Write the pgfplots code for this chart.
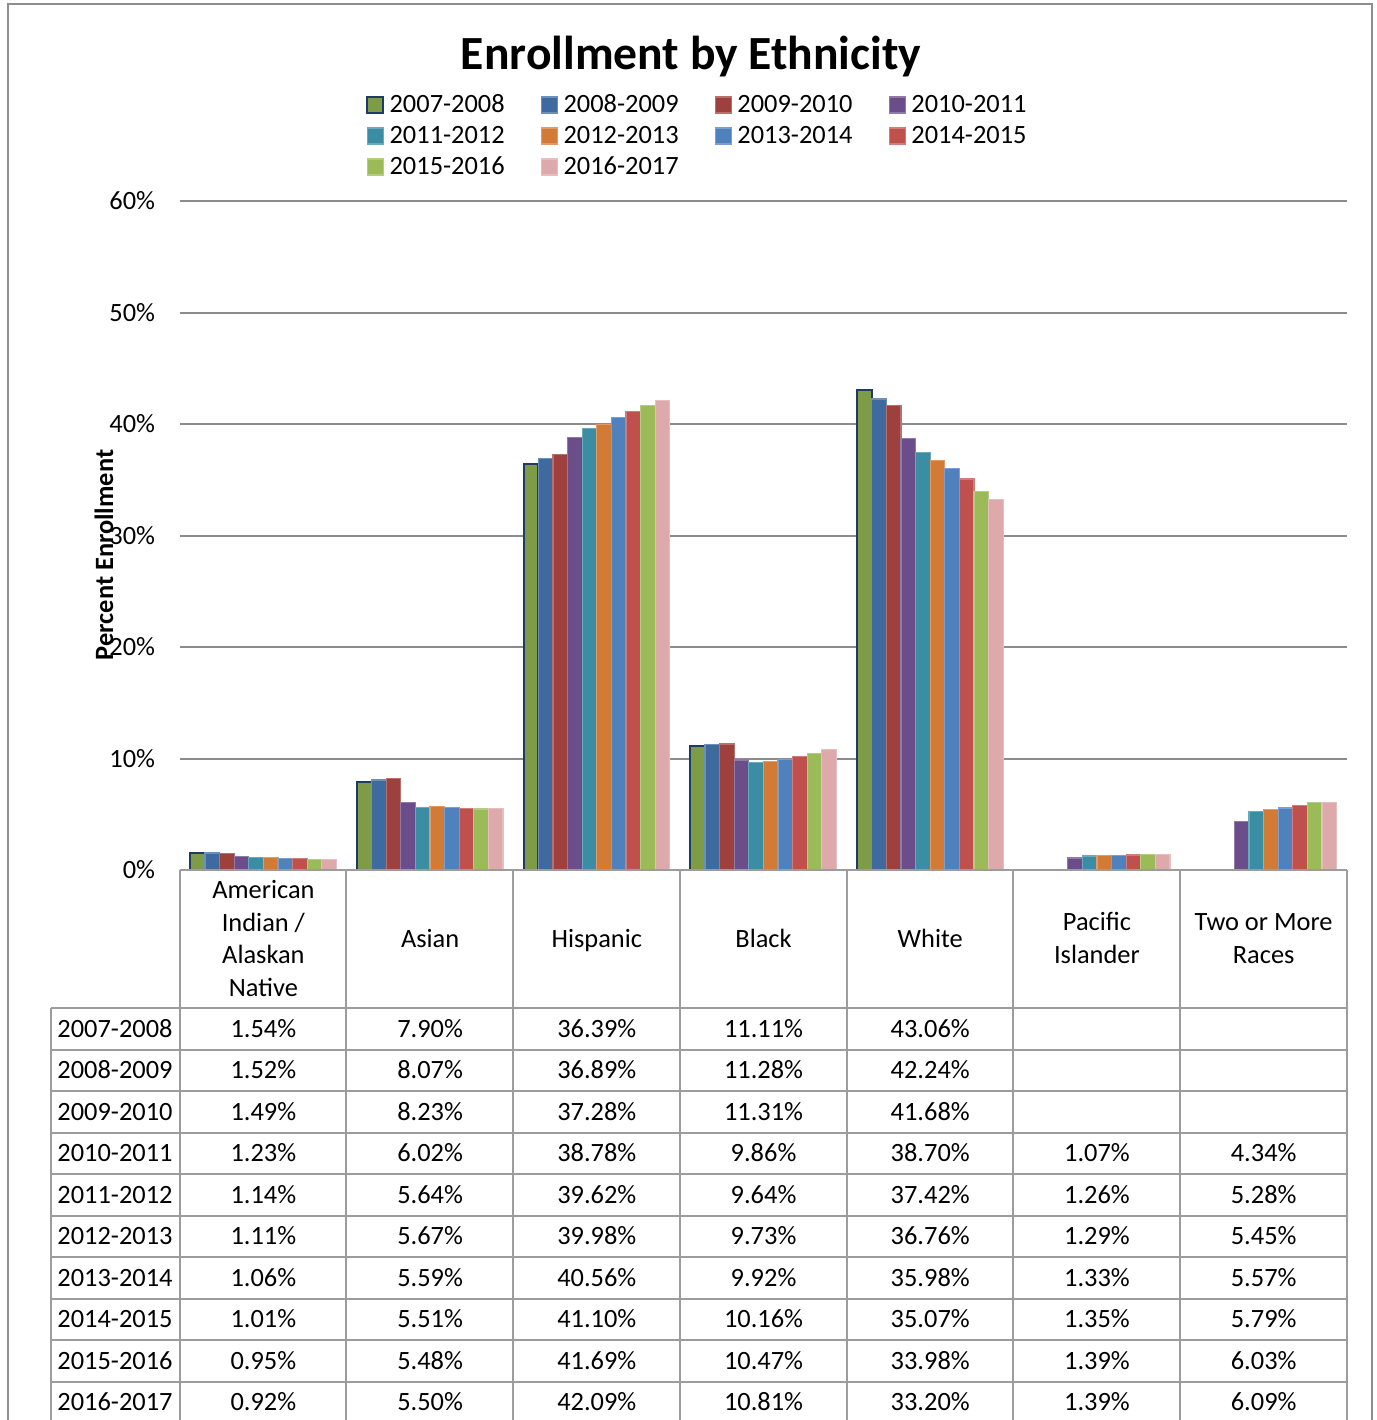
\documentclass[border=0pt]{standalone}
\usepackage{fontspec}
\setmainfont{Carlito}
\usepackage{pgfplots}
\usepackage{pgfplotstable}
\pgfplotsset{compat=1.18}

\definecolor{gridgray}{HTML}{8C8C8C}
\definecolor{tablegray}{HTML}{9C9C9C}
\definecolor{frame}{HTML}{8E8E8E}
\definecolor{sA}{HTML}{7E9B48}
\definecolor{sAedge}{HTML}{1F3B63}
\definecolor{sB}{HTML}{3E6A9F}
\definecolor{sC}{HTML}{9E403D}
\definecolor{sD}{HTML}{6B4E89}
\definecolor{sE}{HTML}{3A8DA3}
\definecolor{sF}{HTML}{D27B37}
\definecolor{sG}{HTML}{4F81BD}
\definecolor{sH}{HTML}{C0504D}
\definecolor{sI}{HTML}{9BBB59}
\definecolor{sJ}{HTML}{DDA9AA}

% enrollment share (percent) by category (rows) and school year (columns)
\pgfplotstableread{
x  y0708 y0809 y0910 y1011 y1112 y1213 y1314 y1415 y1516 y1617
0  1.54  1.52  1.49  1.23  1.14  1.11  1.06  1.01  0.95  0.92
1  7.90  8.07  8.23  6.02  5.64  5.67  5.59  5.51  5.48  5.50
2  36.39 36.89 37.28 38.78 39.62 39.98 40.56 41.10 41.69 42.09
3  11.11 11.28 11.31 9.86  9.64  9.73  9.92  10.16 10.47 10.81
4  43.06 42.24 41.68 38.70 37.42 36.76 35.98 35.07 33.98 33.20
5  nan   nan   nan   1.07  1.26  1.29  1.33  1.35  1.39  1.39
6  nan   nan   nan   4.34  5.28  5.45  5.57  5.79  6.03  6.09
}\enrollment

\def\nanstr{nan}
\newcommand{\txt}{\fontsize{13.2}{16.35}\selectfont}

\begin{document}
\begin{tikzpicture}
% outer frame, in pixel-like units
\begin{scope}[x=0.5pt,y=-0.5pt]
  \draw[frame, line width=1pt] (8,1440) -- (8,4) -- (1372,4) -- (1372,1440);
\end{scope}

\begin{axis}[
  at={(90pt,-435pt)}, anchor=south west,
  scale only axis, width=583.5pt, height=334.5pt,
  xmin=-0.5, xmax=6.5, ymin=0, ymax=60,
  ybar=0pt, bar width=7.3pt,
  xtick=\empty,
  ytick={0,10,20,30,40,50,60},
  yticklabels={0\%,10\%,20\%,30\%,40\%,50\%,60\%},
  yticklabel style={font=\txt, anchor=east, inner sep=0pt, xshift=-12.25pt},
  ymajorgrids, grid style={gridgray, line width=1pt},
  axis line style={draw=none},
  major tick length=0pt,
  ylabel={Percent Enrollment},
  ylabel style={font=\txt\bfseries, at={(axis description cs:-0.0651,0.471)}, anchor=center},
  title={Enrollment by Ethnicity},
  title style={font=\fontsize{23.8}{28}\selectfont\bfseries, at={(axis description cs:0.4379,1.1789)}, anchor=base, inner sep=0pt},
  legend columns=4,
  legend cell align=left,
  legend style={
    at={(axis description cs:0.1594,1.1659)}, anchor=north west,
    draw=none, fill=none, inner sep=0pt, font=\txt,
    nodes={inner sep=0pt, text height=11pt, text depth=4.5pt},
    /tikz/every odd column/.append style={column sep=2.6pt},
    /tikz/every even column/.append style={column sep=18.2pt},
  },
  legend image code/.code={\draw[#1] (0pt,-3.5pt) rectangle (8pt,4.5pt);},
  every axis plot/.append style={line width=0.6pt},
]
\addplot[fill=sA, draw=sAedge, line width=1pt] table[x=x, y=y0708] {\enrollment};
\addplot[fill=sB, draw=sB!75!white] table[x=x, y=y0809] {\enrollment};
\addplot[fill=sC, draw=sC!75!white] table[x=x, y=y0910] {\enrollment};
\addplot[fill=sD, draw=sD!75!white] table[x=x, y=y1011] {\enrollment};
\addplot[fill=sE, draw=sE!75!white] table[x=x, y=y1112] {\enrollment};
\addplot[fill=sF, draw=sF!75!white] table[x=x, y=y1213] {\enrollment};
\addplot[fill=sG, draw=sG!75!white] table[x=x, y=y1314] {\enrollment};
\addplot[fill=sH, draw=sH!75!white] table[x=x, y=y1415] {\enrollment};
\addplot[fill=sI, draw=sI!75!white] table[x=x, y=y1516] {\enrollment};
\addplot[fill=sJ, draw=sJ!75!white] table[x=x, y=y1617] {\enrollment};
\legend{2007-2008,2008-2009,2009-2010,2010-2011,2011-2012,2012-2013,2013-2014,2014-2015,2015-2016,2016-2017}
\end{axis}

% data table under the chart
\begin{scope}[x=0.5pt,y=-0.5pt]
  \draw[tablegray, line width=1pt] (179.5,870) -- (1347,870);
  \foreach \k in {0,...,7} {
    \draw[tablegray, line width=1pt] (179.5+166.79*\k,870) -- (179.5+166.79*\k,1440);
  }
  \draw[tablegray, line width=1pt] (51,1008) -- (51,1440);
  \foreach \k in {0,...,10} {
    \draw[tablegray, line width=1pt] (51,1008+41.5*\k) -- (1347,1008+41.5*\k);
  }
  % column headings, one node per line of text
  \foreach \c/\yy/\t in {0/898/American, 0/931/{Indian /}, 0/963/Alaskan, 0/996/Native,
                         1/947/Asian, 2/947/Hispanic, 3/947/Black, 4/947/White,
                         5/930/Pacific, 5/963/Islander, 6/930/{Two or More}, 6/963/Races} {
    \node[font=\txt, anchor=base, inner sep=0pt] at (263.4+166.71*\c,\yy) {\t};
  }
  % rows
  \foreach \col/\yr [count=\r from 0] in {y0708/2007-2008,y0809/2008-2009,y0910/2009-2010,y1011/2010-2011,y1112/2011-2012,y1213/2012-2013,y1314/2013-2014,y1415/2014-2015,y1516/2015-2016,y1617/2016-2017} {
    \node[font=\txt, anchor=base west, inner sep=0pt] at (57,1037+41.5*\r) {\yr};
    \foreach \c in {0,...,6} {
      \pgfplotstablegetelem{\c}{\col}\of\enrollment
      \edef\cell{\pgfplotsretval}
      \ifx\cell\nanstr\else
        \node[font=\txt, anchor=base, inner sep=0pt] at (263.4+166.71*\c,1037+41.5*\r) {\cell\%};
      \fi
    }
  }
  % page area
  \pgfresetboundingbox
  \useasboundingbox (0,0) rectangle (1377,1420);
\end{scope}
\end{tikzpicture}
\end{document}
